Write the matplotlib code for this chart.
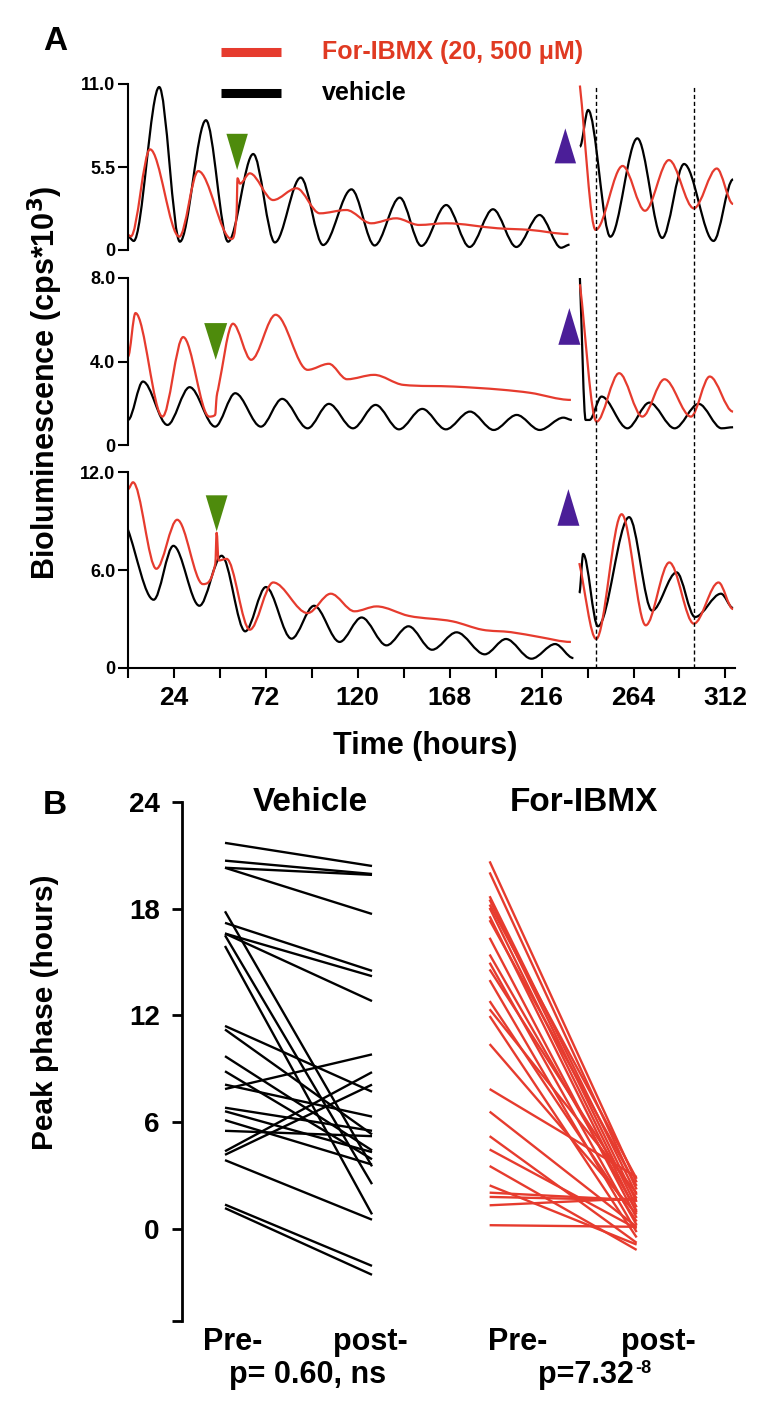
import matplotlib
matplotlib.use("Agg")
import matplotlib.pyplot as plt
from matplotlib.path import Path
from matplotlib.patches import PathPatch, Polygon
from matplotlib.lines import Line2D
import matplotlib.transforms as mtransforms
import numpy as np

RED = "#E63B2E"
BLACK = "#000000"
GREEN = "#4E8B0C"
PURPLE = "#4B1E98"
NARROW = ["Liberation Sans Narrow", "Liberation Sans", "DejaVu Sans"]
SANS = ["Liberation Sans", "DejaVu Sans"]

# ---------------- Panel A data (hours, bioluminescence x10^3) ----------------
# Panel A1
a1_black_pre_t = [0, 3, 16.3, 27.1, 40.7, 52.3, 65.4, 76.7, 90.2, 101.9, 116.7, 128.8, 141.9, 153.2, 166.2, 178.4, 190.6, 202.8, 214.9, 226.2, 230.6]
a1_black_pre_v = [0.9, 0.6, 10.8, 0.55, 8.6, 0.55, 6.36, 0.5, 4.8, 0.33, 4.02, 0.3, 3.47, 0.27, 2.98, 0.2, 2.7, 0.2, 2.32, 0.15, 0.35]
a1_red_pre_t = [0, 1.5, 11.5, 26.8, 36.7, 54, 56.7, 57.2, 58.5, 63.6, 75.8, 88, 100.2, 114, 127, 140, 152, 166, 193, 210, 230]
a1_red_pre_v = [1.0, 0.9, 6.67, 0.88, 5.23, 0.73, 2.43, 4.75, 4.4, 5.08, 3.31, 4.09, 2.43, 2.65, 1.77, 2.1, 1.66, 1.77, 1.44, 1.33, 1.06]
a1_black_post_t = [236, 240.3, 251.9, 266, 279, 290.4, 305.8, 316]
a1_black_post_v = [6.85, 9.28, 0.88, 7.4, 0.8, 5.7, 0.6, 4.68]
a1_red_post_t = [236, 244.2, 258.3, 270, 282.5, 295.5, 307.5, 316]
a1_red_post_v = [10.9, 1.33, 5.57, 2.6, 5.96, 2.76, 5.4, 3.05]

# Panel A2
a2_black_pre_t = [0, 7.8, 20.6, 32.2, 45.5, 56, 69.4, 80.5, 93.8, 104.9, 117.5, 129.3, 141.5, 153.7, 166, 178.6, 191, 203, 215, 227.4, 231.8]
a2_black_pre_v = [1.2, 3.04, 0.96, 2.77, 0.88, 2.48, 0.88, 2.21, 0.8, 1.97, 0.8, 1.92, 0.75, 1.73, 0.75, 1.6, 0.72, 1.44, 0.72, 1.31, 1.2]
a2_red_pre_t = [0, 3.9, 18, 28.8, 42.4, 45.5, 46.3, 47, 54.8, 64.3, 77.1, 93.8, 104.9, 114.4, 128.5, 143.8, 170, 195, 210, 231.3]
a2_red_pre_v = [4.24, 6.32, 1.36, 5.17, 1.36, 1.44, 2.32, 2.64, 5.81, 4.08, 6.24, 3.6, 3.89, 3.15, 3.36, 2.88, 2.8, 2.65, 2.5, 2.16]
a2_black_post_t = [236, 239, 241, 247.3, 260.8, 272.3, 285.5, 298, 310, 316]
a2_black_post_v = [8.0, 1.2, 1.2, 2.32, 0.8, 2.03, 0.8, 1.97, 0.8, 0.85]
a2_red_post_t = [236, 244.7, 256.5, 268.6, 280.2, 294, 303.8, 316]
a2_red_post_v = [7.7, 1.12, 3.44, 1.36, 3.15, 1.36, 3.28, 1.6]

# Panel A3
a3_black_pre_t = [0, 13.4, 23.7, 37.3, 48.9, 61.2, 72, 85.4, 97.2, 110.5, 122, 135, 146.5, 158.8, 171.6, 186.3, 197.4, 210.7, 223.1, 232.6]
a3_black_pre_v = [8.48, 4.19, 7.5, 3.82, 6.89, 2.25, 4.97, 1.8, 3.82, 1.6, 3.1, 1.39, 2.56, 1.12, 2.19, 0.84, 1.78, 0.57, 1.47, 0.61]
a3_red_pre_t = [0, 2.6, 14.8, 25.7, 39.1, 45.6, 46.3, 47.3, 51.5, 63.6, 75.8, 93.8, 105.9, 118.3, 129.8, 146.6, 169.6, 185, 200, 215, 231.3]
a3_red_pre_v = [10.98, 11.4, 6.09, 9.1, 5.15, 6.4, 8.3, 6.6, 6.7, 2.35, 5.25, 3.37, 4.56, 3.48, 3.78, 3.2, 2.86, 2.35, 2.2, 1.9, 1.6]
a3_black_post_t = [235.7, 237.7, 245.4, 261.7, 273.7, 286.5, 296.1, 309.7, 316]
a3_black_post_v = [4.6, 7.0, 2.56, 9.26, 3.52, 5.87, 3.13, 4.56, 3.68]
a3_red_post_t = [235.7, 244.5, 257.8, 270.4, 282.7, 295.5, 308.4, 316]
a3_red_post_v = [6.44, 1.78, 9.44, 2.62, 6.48, 2.72, 5.25, 3.62]

a_ymax = [11.0, 8.0, 12.0]
a_yticklabels = [["0", "5.5", "11.0"], ["0", "4.0", "8.0"], ["0", "6.0", "12.0"]]
# treatment markers: (centre hour, base value, tip value, half width in hours)
green_marks = [(57.0, 7.7, 5.3, 5.6), (45.8, 5.84, 4.08, 6.0), (46.3, 10.6, 8.38, 5.7)]
purple_marks = [(228.4, 5.74, 8.06, 5.6), (230.5, 4.8, 6.56, 5.75), (230.0, 8.73, 10.98, 5.75)]
dashed_hours = [244.5, 295.5]
time_ticks = list(range(0, 313, 24))
time_labels = [24, 72, 120, 168, 216, 264, 312]

# ---------------- Panel B data (peak phase, hours) ----------------
vehicle_pre = [21.7, 20.7, 20.3, 20.3, 17.85, 17.2, 16.6, 16.6, 16.5, 15.9, 11.4, 11.2, 9.7, 8.85, 8.1, 7.85, 6.8, 6.6, 6.1, 5.5, 4.35, 4.15, 3.85, 1.35, 1.15]
vehicle_post = [20.4, 19.95, 19.9, 17.7, 3.5, 14.5, 14.2, 12.8, 2.5, 0.8, 7.7, 5.3, 4.4, 3.9, 6.3, 9.8, 5.5, 4.3, 3.6, 5.2, 8.8, 8.1, 0.5, -2.1, -2.6]
ibmx_pre = [20.66, 20.04, 18.7, 18.51, 18.23, 18.04, 17.57, 17.35, 16.36, 15.42, 14.96, 14.58, 13.98, 12.8, 12.34, 11.96, 10.38, 7.85, 6.58, 5.2, 4.45, 3.52, 2.43, 2.02, 1.78, 1.31, 0.19]
ibmx_post = [2.6, 2.2, 1.9, 1.5, 2.8, 1.2, 0.9, 2.4, 0.6, 1.0, 0.2, 1.7, -0.2, 0.4, 2.0, -0.5, 0.8, 2.9, 0.1, -0.8, 0.0, -1.2, -0.9, 1.6, 1.6, 1.7, 0.1]
b_yticks = [0, 6, 12, 18, 24]
group_titles = ["Vehicle", "For-IBMX"]
group_labels = ["Pre-", "post-", "Pre-", "post-"]
p_main = ["p= 0.60, ns", "p=7.32"]
p_sup = ["", "-8"]


def smooth_path(t, v):
    t = np.asarray(t, float)
    v = np.asarray(v, float)
    n = len(t)
    sec = np.diff(v) / np.diff(t)
    m = np.zeros(n)
    for i in range(1, n - 1):
        if sec[i - 1] * sec[i] > 0:
            avg = 0.5 * (sec[i - 1] + sec[i])
            lim = 3 * min(abs(sec[i - 1]), abs(sec[i]))
            m[i] = np.sign(avg) * min(abs(avg), lim)
    m[0] = sec[0] if abs(v[1] - v[0]) > 3 else 0
    m[-1] = 0
    verts = [(t[0], v[0])]
    codes = [Path.MOVETO]
    for i in range(n - 1):
        h = t[i + 1] - t[i]
        verts += [(t[i] + h / 3, v[i] + m[i] * h / 3),
                  (t[i + 1] - h / 3, v[i + 1] - m[i + 1] * h / 3),
                  (t[i + 1], v[i + 1])]
        codes += [Path.CURVE4] * 3
    return Path(verts, codes)


def draw_trace(ax, t, v, color):
    ax.add_patch(PathPatch(smooth_path(t, v), fill=False, edgecolor=color,
                           lw=1.6, joinstyle="round", capstyle="butt"))


fig = plt.figure(figsize=(7.68, 14.28), dpi=100)


def fx(px):
    return px / 768.0


def fy(py):
    return 1 - py / 1428.0


XMAX = 317.0
left, right = 128, 735
a_boxes = [(84, 250), (278, 445), (472.5, 668)]
traces = [
    (a1_black_pre_t, a1_black_pre_v, a1_red_pre_t, a1_red_pre_v,
     a1_black_post_t, a1_black_post_v, a1_red_post_t, a1_red_post_v),
    (a2_black_pre_t, a2_black_pre_v, a2_red_pre_t, a2_red_pre_v,
     a2_black_post_t, a2_black_post_v, a2_red_post_t, a2_red_post_v),
    (a3_black_pre_t, a3_black_pre_v, a3_red_pre_t, a3_red_pre_v,
     a3_black_post_t, a3_black_post_v, a3_red_post_t, a3_red_post_v),
]

for k, (top, bot) in enumerate(a_boxes):
    ax = fig.add_axes([fx(left), fy(bot), fx(right) - fx(left), fy(top) - fy(bot)])
    ax.set_xlim(0, XMAX)
    ax.set_ylim(0, a_ymax[k])
    ax.patch.set_alpha(0)
    for s in ["top", "right"]:
        ax.spines[s].set_visible(False)
    ax.spines["left"].set_linewidth(1.5)
    ax.set_yticks([0, a_ymax[k] / 2, a_ymax[k]])
    ax.set_yticklabels(a_yticklabels[k], fontfamily=NARROW, fontweight="bold", fontsize=13)
    ax.tick_params(axis="y", length=7, width=1.5, pad=2)
    if k < 2:
        ax.spines["bottom"].set_visible(False)
        ax.set_xticks([])
    else:
        ax.spines["bottom"].set_linewidth(1.5)
        ax.set_xticks(time_ticks)
        ax.set_xticklabels([str(x) if x in time_labels else "" for x in time_ticks],
                           fontfamily=NARROW, fontweight="bold", fontsize=19)
        ax.tick_params(axis="x", length=7, width=1.5, pad=6)
    bt, bv, rt, rv, bpt, bpv, rpt, rpv = traces[k]
    draw_trace(ax, bt, bv, BLACK)
    draw_trace(ax, rt, rv, RED)
    draw_trace(ax, bpt, bpv, BLACK)
    draw_trace(ax, rpt, rpv, RED)
    gc, gb, gt, gw = green_marks[k]
    ax.add_patch(Polygon([(gc - gw, gb), (gc + gw, gb), (gc, gt)], closed=True,
                         facecolor=GREEN, edgecolor="none", zorder=5))
    pc, pb, pt, pw = purple_marks[k]
    ax.add_patch(Polygon([(pc - pw, pb), (pc + pw, pb), (pc, pt)], closed=True,
                         facecolor=PURPLE, edgecolor="none", zorder=5))

# dashed vertical lines across all three panels
ov = fig.add_axes([fx(left), fy(668), fx(right) - fx(left), fy(86) - fy(668)])
ov.set_xlim(0, XMAX)
ov.set_ylim(0, 1)
ov.axis("off")
for h in dashed_hours:
    ov.axvline(h, color="black", lw=1.0, ls=(0, (3, 2)))

# legend
fig.add_artist(Line2D([fx(221), fx(281)], [fy(52), fy(52)], color=RED, lw=6.5, solid_capstyle="butt"))
fig.add_artist(Line2D([fx(221), fx(281)], [fy(93), fy(93)], color=BLACK, lw=6.5, solid_capstyle="butt"))
fig.text(fx(322), fy(52), "For-IBMX (20, 500 μM)", color="#E03A22", fontfamily=NARROW,
         fontweight="bold", fontsize=18, va="center", ha="left")
fig.text(fx(322), fy(93), "vehicle", color="black", fontfamily=NARROW,
         fontweight="bold", fontsize=18, va="center", ha="left")

fig.text(fx(55), fy(42), "A", fontfamily=SANS, fontweight="bold", fontsize=24, ha="center", va="center")
fig.text(fx(45), fy(383), "Bioluminescence (cps*10$^{\\mathbf{3}}$)", fontfamily=SANS, fontweight="bold",
         fontsize=22, rotation=90, ha="center", va="center")
fig.text(fx(425), fy(746), "Time (hours)", fontfamily=NARROW, fontweight="bold",
         fontsize=22, ha="center", va="center")

# ---------------- Panel B ----------------
axb = fig.add_axes([fx(182), fy(1321), fx(700) - fx(182), fy(802) - fy(1321)])
YMIN = -5.2
axb.set_ylim(YMIN, 24)
axb.set_xlim(-0.2925, 3.231)
axb.patch.set_alpha(0)
for s in ["top", "right", "bottom"]:
    axb.spines[s].set_visible(False)
axb.spines["left"].set_linewidth(2)
axb.set_yticks(b_yticks + [YMIN])
axb.set_yticklabels([str(v) for v in b_yticks] + [""], fontfamily=SANS, fontweight="bold", fontsize=20)
axb.tick_params(axis="y", length=7, width=2, pad=9)
axb.set_xticks([])

veh_x = [0, 1]
ibmx_x = [1.8, 2.8]
for a, b in zip(vehicle_pre, vehicle_post):
    axb.plot(veh_x, [a, b], color=BLACK, lw=1.7, solid_capstyle="butt")
for a, b in zip(ibmx_pre, ibmx_post):
    axb.plot(ibmx_x, [a, b], color=RED, lw=1.7, solid_capstyle="butt")

title_x = [0.58, 2.44]
for tx, tt in zip(title_x, group_titles):
    axb.text(tx, 24, tt, fontfamily=SANS, fontweight="bold", fontsize=24, ha="center", va="center")

trans = mtransforms.blended_transform_factory(axb.transData, fig.transFigure)
lab_x = [0.05, 0.99, 1.99, 2.95]
for lx, lt in zip(lab_x, group_labels):
    axb.text(lx, fy(1342), lt, transform=trans, fontfamily=NARROW, fontweight="bold",
             fontsize=22, ha="center", va="center")
p_x = [0.56, 2.456]
for px_, pm, ps in zip(p_x, p_main, p_sup):
    t1 = axb.text(px_, fy(1375), pm, transform=trans, fontfamily=NARROW, fontweight="bold",
                  fontsize=22, ha="center", va="center")
    if ps:
        axb.annotate(ps, xy=(1.0, 1.0), xycoords=t1, xytext=(1, 0), textcoords="offset points",
                     fontfamily=NARROW, fontweight="bold", fontsize=13, ha="left", va="top")

fig.text(fx(55), fy(806), "B", fontfamily=SANS, fontweight="bold", fontsize=24, ha="center", va="center")
fig.text(fx(45), fy(1012), "Peak phase (hours)", fontfamily=SANS, fontweight="bold",
         fontsize=21.5, rotation=90, ha="center", va="center")

fig.savefig("out.png", dpi=100)
